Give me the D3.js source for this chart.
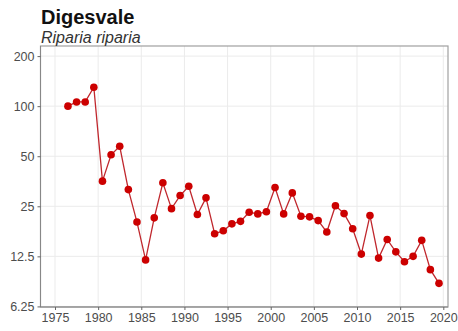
<!DOCTYPE html>
<html><head><meta charset="utf-8">
<script src="https://cdn.jsdelivr.net/npm/d3@7"></script>
<style>body{margin:0;background:#fff}svg{display:block}</style>
</head><body>
<script>
const title = "Digesvale";
const subtitle = "Riparia riparia";
const years = d3.range(1976, 2020);
const values = [100,106,106,130,35.4,51,57.4,31.5,20.1,11.9,21.3,34.6,24.2,29.0,33.0,22.3,28.1,17.1,17.8,19.6,20.3,23.0,22.5,23.2,32.4,22.5,30.1,21.8,21.6,20.5,17.5,25.2,22.6,18.3,12.9,22.0,12.2,15.8,13.3,11.6,12.5,15.6,10.4,8.6];
const xTicks = [1975,1980,1985,1990,1995,2000,2005,2010,2015,2020];
const yTicks = [6.25,12.5,25,50,100,200];
const yTickLabels = ["6.25","12.5","25","50","100","200"];

const W = 458, H = 331;
const svg = d3.select("body").append("svg").attr("width", W).attr("height", H);
const L = 40.5, R = 448, T = 46, B = 307;
const x = d3.scaleLinear().domain([1975, 2020]).range([55, 443.3]);
const y = d3.scaleLog().base(2).domain([6.2, 230]).range([B, T]);

// gridlines
const g = svg.append("g");
g.selectAll("line.v").data(xTicks).join("line")
  .attr("x1", d => x(d)).attr("x2", d => x(d)).attr("y1", T).attr("y2", B)
  .attr("stroke", "#ebebeb").attr("stroke-width", 1);
g.selectAll("line.h").data(yTicks).join("line")
  .attr("x1", L).attr("x2", R).attr("y1", d => y(d)).attr("y2", d => y(d))
  .attr("stroke", "#ebebeb").attr("stroke-width", 1);

// panel border
svg.append("rect").attr("x", L).attr("y", T).attr("width", R - L).attr("height", B - T)
  .attr("fill", "none").attr("stroke", "#a0a0a0").attr("stroke-width", 1.2);

// axes
const xAxis = d3.axisBottom(x).tickValues(xTicks).tickFormat(d3.format("d")).tickSize(3).tickPadding(3);
const gx = svg.append("g").attr("transform", `translate(0,${B})`).call(xAxis);
gx.select(".domain").attr("d", `M${L},0H${R}`).attr("stroke", "#888");
const yAxis = d3.axisLeft(y).tickValues(yTicks).tickFormat((d,i) => yTickLabels[i]).tickSize(3).tickPadding(3);
const gy = svg.append("g").attr("transform", `translate(${L},0)`).call(yAxis);
gy.select(".domain").attr("d", `M0,${T}V${B}`).attr("stroke", "#888");
[gx, gy].forEach(a => {
  a.selectAll(".tick line").attr("stroke", "#666");
  a.selectAll("text").attr("fill", "#4d4d4d").style("font-family", "Liberation Sans, Arial, sans-serif").style("font-size", "12.5px");
});

// line + points
const pts = years.map((yr, i) => ({yr, v: values[i]}));
svg.append("path").datum(pts)
  .attr("d", d3.line().x(d => x(d.yr + 0.5)).y(d => y(d.v)))
  .attr("fill", "none").attr("stroke", "#c0272d").attr("stroke-width", 1.3);
svg.selectAll("circle.p").data(pts).join("circle")
  .attr("cx", d => x(d.yr + 0.5)).attr("cy", d => y(d.v)).attr("r", 3.8)
  .attr("fill", "#cc0000");

// titles
svg.append("text").attr("x", 41).attr("y", 24).text(title)
  .style("font-family", "Liberation Sans, Arial, sans-serif").style("font-weight", "bold")
  .style("font-size", "20px").attr("fill", "#111");
svg.append("text").attr("x", 41).attr("y", 42.5).text(subtitle)
  .style("font-family", "Liberation Sans, Arial, sans-serif").style("font-style", "italic")
  .style("font-size", "16px").attr("fill", "#333");
</script>
</body></html>
